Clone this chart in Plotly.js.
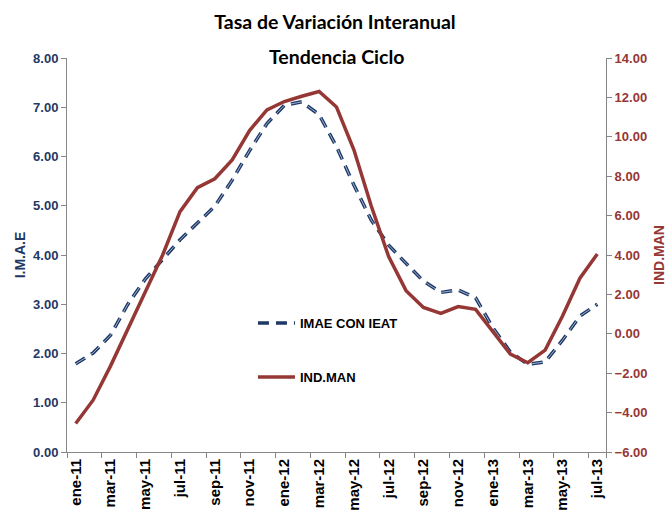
<!DOCTYPE html>
<html>
<head>
<meta charset="utf-8">
<script src="https://cdn.plot.ly/plotly-3.0.1.min.js"></script>
<style>html,body{margin:0;padding:0;background:#fff;}#chart{width:670px;height:520px;}</style>
</head>
<body>
<div id="chart"></div>
<script>
const months = ["ene-11","feb-11","mar-11","abr-11","may-11","jun-11","jul-11","ago-11","sep-11","oct-11","nov-11","dic-11",
                "ene-12","feb-12","mar-12","abr-12","may-12","jun-12","jul-12","ago-12","sep-12","oct-12","nov-12","dic-12",
                "ene-13","feb-13","mar-13","abr-13","may-13","jun-13","jul-13"];
const tickLabels = ["ene-11","mar-11","may-11","jul-11","sep-11","nov-11","ene-12","mar-12","may-12","jul-12","sep-12","nov-12","ene-13","mar-13","may-13","jul-13"];
const imaeConIeat = [1.79,2.01,2.37,3.00,3.51,3.92,4.31,4.65,4.99,5.52,6.12,6.67,
                     7.04,7.11,6.85,6.20,5.42,4.71,4.20,3.83,3.47,3.24,3.29,3.13,
                     2.52,2.03,1.78,1.83,2.27,2.76,3.00];
const indMan = [-4.55,-3.37,-1.64,0.19,2.12,4.00,6.20,7.42,7.87,8.83,10.32,11.37,
                11.79,12.06,12.30,11.51,9.34,6.49,3.92,2.19,1.34,1.04,1.38,1.24,
                0.09,-1.03,-1.47,-0.83,0.90,2.82,4.05];
const leftTicks = [0,1,2,3,4,5,6,7,8];
const rightTicks = [-6,-4,-2,0,2,4,6,8,10,12,14];

const FONT = "'Liberation Sans', Arial, sans-serif";
const TFONT = "Lato, 'Liberation Sans', sans-serif";
const NAVY = "#1F3864";
const RED = "#953735";
const GREY = "#868686";

const traces = [
  {x: months, y: imaeConIeat, name: "IMAE CON IEAT", type: "scatter", mode: "lines",
   line: {color: NAVY, width: 3.5, dash: "11px,7px"}, yaxis: "y", legend: "legend"},
  {x: months, y: imaeConIeat, name: "IMAE CON IEAT", type: "scatter", mode: "lines",
   line: {color: "#9db4d6", width: 1, dash: "11px,7px"}, yaxis: "y", showlegend: false, hoverinfo: "skip"},
  {x: months, y: indMan, name: "IND.MAN", type: "scatter", mode: "lines",
   line: {color: RED, width: 3.5}, yaxis: "y2", legend: "legend2"}
];

const layout = {
  width: 670, height: 520,
  paper_bgcolor: "#fff", plot_bgcolor: "#fff",
  margin: {l: 67, r: 64, t: 58, b: 68},
  font: {family: FONT, color: "#000"},
  title: {text: "<b>Tasa de Variación Interanual</b>", x: 0.5, xanchor: "center", y: 0.958, yanchor: "middle",
          font: {family: TFONT, size: 19.5, color: "#000"}},
  annotations: [
    {text: "<b>Tendencia Ciclo</b>", xref: "paper", yref: "paper", x: 0.5, y: 1.0, xanchor: "center", yanchor: "middle",
     yshift: 2, showarrow: false, font: {family: TFONT, size: 19.5, color: "#000"}}
  ],
  xaxis: {
    type: "category", tickmode: "array", tickvals: tickLabels, ticktext: tickLabels,
    tickangle: -90, tickson: "boundaries", ticks: "outside", ticklen: 5, tickcolor: GREY,
    showline: true, linecolor: GREY, linewidth: 1, showgrid: false, zeroline: false,
    tickfont: {family: FONT, size: 15, color: "#000", weight: "bold"}, range: [-0.5, 30.5]
  },
  yaxis: {
    range: [0, 8], tickvals: leftTicks, tickformat: ".2f", ticks: "outside", ticklen: 5, tickcolor: GREY,
    showline: true, linecolor: GREY, linewidth: 1, showgrid: false, zeroline: false,
    tickfont: {family: FONT, size: 13, color: NAVY, weight: "bold"},
    title: {text: "I.M.A.E", font: {family: FONT, size: 14, color: NAVY, weight: "bold"}, standoff: 4}
  },
  yaxis2: {
    range: [-6, 14], tickvals: rightTicks, tickformat: ".2f", overlaying: "y", side: "right",
    ticks: "outside", ticklen: 5, tickcolor: GREY,
    showline: true, linecolor: GREY, linewidth: 1, showgrid: false, zeroline: false,
    tickfont: {family: FONT, size: 13, color: RED, weight: "bold"},
    title: {text: "IND.MAN", font: {family: FONT, size: 14, color: RED, weight: "bold"}, standoff: 7}
  },
  legend: {x: 0.345, y: 0.327, xanchor: "left", yanchor: "middle", bgcolor: "rgba(0,0,0,0)", borderwidth: 0,
           itemwidth: 37, font: {family: FONT, size: 13, color: "#000", weight: "bold"}},
  legend2: {x: 0.345, y: 0.19, xanchor: "left", yanchor: "middle", bgcolor: "rgba(0,0,0,0)", borderwidth: 0,
           itemwidth: 37, font: {family: FONT, size: 13, color: "#000", weight: "bold"}},
  showlegend: true
};

Plotly.newPlot("chart", traces, layout, {displayModeBar: false, staticPlot: true});
</script>
</body>
</html>
